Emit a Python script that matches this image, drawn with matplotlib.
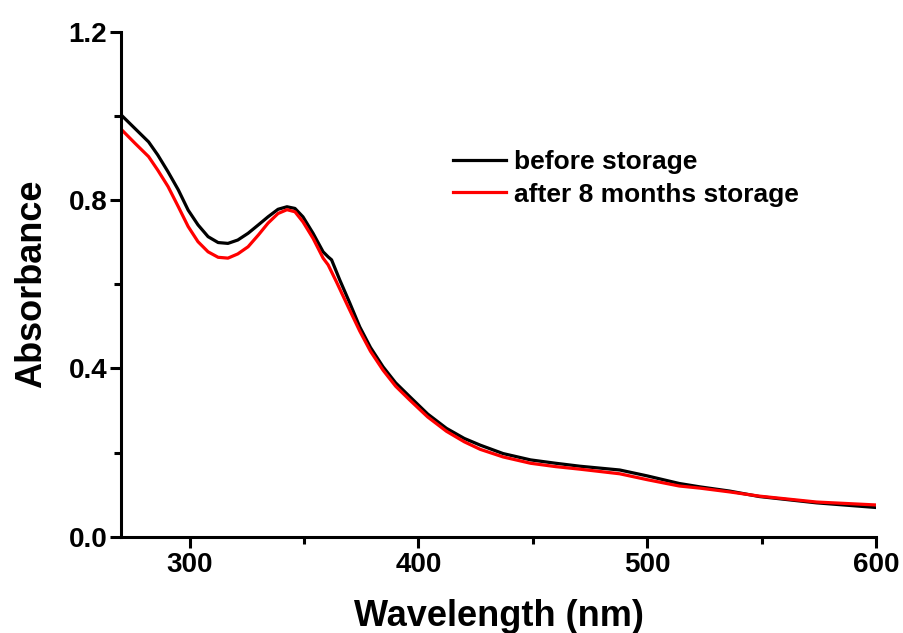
import matplotlib
matplotlib.use('Agg')
import matplotlib.pyplot as plt
from matplotlib.ticker import MultipleLocator

plt.rcParams['font.family'] = ['Liberation Sans', 'DejaVu Sans']
plt.rcParams['font.weight'] = 'bold'

# Espectros
wl_before = [270, 276, 282, 286, 290.5, 295, 299.3, 303.6, 308, 312.4, 316.7, 321, 325.5, 330,
             334.2, 338.6, 342.5, 346, 349.5, 353.9, 358.3, 360.5, 362, 365.6, 370, 374.3,
             379, 384.5, 390, 396.2, 404, 412.2, 420, 427, 437, 449, 460, 470.5, 488, 500,
             514, 523, 536, 549, 574, 600]
abs_before = [1.002, 0.970, 0.938, 0.907, 0.867, 0.824, 0.776, 0.741, 0.713, 0.699, 0.697, 0.705,
              0.721, 0.741, 0.760, 0.778, 0.784, 0.780, 0.760, 0.721, 0.677, 0.665, 0.658, 0.610,
              0.555, 0.499, 0.450, 0.404, 0.366, 0.333, 0.292, 0.258, 0.234, 0.218, 0.198, 0.183,
              0.175, 0.168, 0.159, 0.145, 0.127, 0.119, 0.109, 0.096, 0.081, 0.070]

wl_after = [270, 276, 282, 286, 290.5, 295, 299.3, 303.6, 308, 312.4, 316.7, 321, 325.5, 330,
            334.2, 338.6, 342.5, 346, 349.5, 353.9, 358.3, 360.5, 364.1, 369.2, 374.3, 379,
            384.5, 390, 396.2, 404, 412.2, 420, 427, 437, 449, 460, 470.5, 488, 500, 514, 523,
            536, 549, 574, 600]
abs_after = [0.968, 0.935, 0.903, 0.871, 0.832, 0.784, 0.737, 0.701, 0.677, 0.664, 0.662, 0.672,
             0.689, 0.717, 0.745, 0.768, 0.777, 0.772, 0.748, 0.709, 0.662, 0.646, 0.606, 0.547,
             0.489, 0.441, 0.396, 0.358, 0.325, 0.285, 0.251, 0.226, 0.208, 0.190, 0.175, 0.167,
             0.161, 0.150, 0.136, 0.121, 0.116, 0.107, 0.097, 0.083, 0.076]

labels = ['before storage', 'after 8 months storage']

fig = plt.figure(figsize=(9.04, 6.33), dpi=100)
ax = fig.add_axes([0.134, 0.1517, 0.835, 0.7985])

ax.plot(wl_before, abs_before, color='black', lw=2.3, label=labels[0])
ax.plot(wl_after, abs_after, color='red', lw=2.3, label=labels[1])

ax.set_xlim(270, 600)
ax.set_ylim(0, 1.2)
ax.xaxis.set_major_locator(MultipleLocator(100))
ax.xaxis.set_minor_locator(MultipleLocator(50))
ax.yaxis.set_major_locator(MultipleLocator(0.4))
ax.yaxis.set_minor_locator(MultipleLocator(0.2))
ax.yaxis.set_major_formatter(plt.FormatStrFormatter('%.1f'))

for s in ['top', 'right']:
    ax.spines[s].set_visible(False)
for s in ['left', 'bottom']:
    ax.spines[s].set_linewidth(2.2)

ax.tick_params(axis='both', which='major', length=8, width=2.2, labelsize=20)
ax.tick_params(axis='both', which='minor', length=5, width=2.2)
ax.tick_params(axis='y', which='major', pad=2)
ax.tick_params(axis='x', which='major', pad=3)

ax.set_xlabel('Wavelength (nm)', fontsize=26, fontweight='bold', labelpad=15)
ax.set_ylabel('Absorbance', fontsize=26, fontweight='bold', labelpad=14)

ax.legend(loc='upper left', bbox_to_anchor=(0.4394, 0.7656), frameon=False,
          fontsize=19, handlelength=2.0, handletextpad=0.3, labelspacing=0.33,
          borderpad=0, borderaxespad=0)

fig.savefig('out.png', dpi=100)
